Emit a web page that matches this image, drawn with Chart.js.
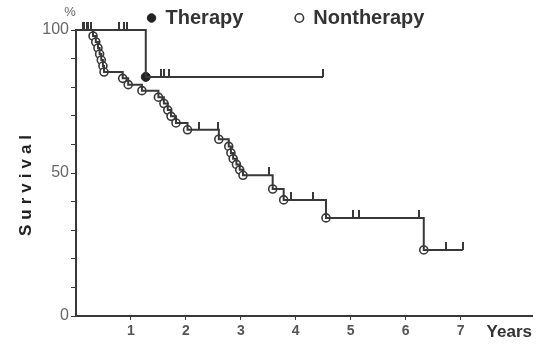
<!DOCTYPE html>
<html lang="en">
<head>
<meta charset="UTF-8">
<title>Survival - Therapy vs Nontherapy</title>
<script src="https://cdn.jsdelivr.net/npm/chart.js"></script>
<style>
    html, body { margin: 0; padding: 0; background: #fff; }
    #wrap { width: 549px; height: 345px; }
</style>
</head>
<body>
<div id="wrap"><canvas id="survChart" width="549" height="345"></canvas></div>
<script>
// Kaplan-Meier data (years, % surviving after each death)
const therapyEventTimes = [1.27];
const therapyEventSurv = [83.6];
const therapyFollowUp = 4.5;
const therapyCensored = [0.15, 0.22, 0.27, 0.78, 0.87, 0.92, 1.55, 1.6, 1.69, 4.5];

const nonEventTimes = [0.31, 0.36, 0.40, 0.43, 0.46, 0.49, 0.51, 0.85, 0.95, 1.20,
                       1.50, 1.60, 1.67, 1.73, 1.82, 2.03, 2.60, 2.78, 2.82, 2.86,
                       2.92, 2.98, 3.04, 3.58, 3.78, 4.55, 6.33];
const nonEventSurv = [97.9, 95.8, 93.7, 91.6, 89.5, 87.4, 85.3, 83.1, 80.9, 78.8,
                      76.5, 74.3, 72.0, 69.8, 67.5, 65.1, 61.8, 59.3, 57.0, 55.0,
                      53.0, 51.1, 49.2, 44.4, 40.6, 34.3, 23.1];
const nonFollowUp = 7.04;
const nonCensored = [0.13, 0.2, 2.24, 2.58, 3.51, 3.91, 4.31, 5.05, 5.15, 6.24, 6.73, 7.04];

const xTickValues = [1, 2, 3, 4, 5, 6, 7];
const yLabelValues = [0, 50, 100];

const ink = '#383838';
const fontFam = '"Liberation Sans", Arial, sans-serif';

// survival at time t from the step data
function survAt(t, times, surv) {
    let s = 100;
    for (let i = 0; i < times.length; i++) {
        if (times[i] <= t) s = surv[i];
    }
    return s;
}

function stepLine(times, surv, end) {
    const pts = [{x: 0, y: 100}];
    times.forEach((t, i) => pts.push({x: t, y: surv[i]}));
    pts.push({x: end, y: surv[surv.length - 1]});
    return pts;
}

// small vertical tick standing on the curve
function censorMark() {
    const c = document.createElement('canvas');
    c.width = 2;
    c.height = 16;
    const g = c.getContext('2d');
    g.fillStyle = ink;
    g.fillRect(0, 0, 2, 8);
    return c;
}
const tickImg = censorMark();

const extraText = {
    id: 'extraText',
    afterDraw(chart) {
        const {ctx, chartArea} = chart;
        ctx.save();
        ctx.fillStyle = '#222';
        ctx.font = 'bold 17px ' + fontFam;
        ctx.letterSpacing = '5px';
        ctx.translate(26, (chartArea.top + chartArea.bottom) / 2 + 10);
        ctx.rotate(-Math.PI / 2);
        ctx.textAlign = 'center';
        ctx.textBaseline = 'middle';
        ctx.fillText('Survival', 0, 0);
        ctx.restore();

        ctx.save();
        ctx.fillStyle = '#666';
        ctx.font = '13px ' + fontFam;
        ctx.textAlign = 'center';
        ctx.textBaseline = 'middle';
        ctx.fillText('%', 70, 12);
        ctx.restore();
    }
};

new Chart(document.getElementById('survChart'), {
    type: 'scatter',
    data: {
        datasets: [
            {
                label: 'therapy-line',
                data: stepLine(therapyEventTimes, therapyEventSurv, therapyFollowUp),
                showLine: true, stepped: true,
                borderColor: ink, borderWidth: 2, pointRadius: 0, clip: false
            },
            {
                label: 'nontherapy-line',
                data: stepLine(nonEventTimes, nonEventSurv, nonFollowUp),
                showLine: true, stepped: true,
                borderColor: ink, borderWidth: 2, pointRadius: 0, clip: false
            },
            {
                label: 'therapy-censor',
                data: therapyCensored.map(t => ({x: t, y: survAt(t, therapyEventTimes, therapyEventSurv)})),
                pointStyle: tickImg, clip: false
            },
            {
                label: 'nontherapy-censor',
                data: nonCensored.map(t => ({x: t, y: survAt(t, nonEventTimes, nonEventSurv)})),
                pointStyle: tickImg, clip: false
            },
            {
                label: 'Nontherapy', legend: true,
                data: nonEventTimes.map((t, i) => ({x: t, y: nonEventSurv[i]})),
                pointStyle: 'circle', pointRadius: 4,
                backgroundColor: '#fff', borderColor: ink, borderWidth: 1.6, clip: false
            },
            {
                label: 'Therapy', legend: true,
                data: therapyEventTimes.map((t, i) => ({x: t, y: therapyEventSurv[i]})),
                pointStyle: 'circle', pointRadius: 4.5,
                backgroundColor: '#222', borderColor: '#222', borderWidth: 1, clip: false
            }
        ]
    },
    options: {
        responsive: false,
        animation: false,
        devicePixelRatio: 1,
        layout: { padding: { top: -44, left: 40, right: 17, bottom: 0 } },
        plugins: {
            tooltip: { enabled: false },
            legend: {
                position: 'top',
                maxHeight: 74,
                reverse: true,
                labels: {
                    usePointStyle: true,
                    boxWidth: 8,
                    boxHeight: 6,
                    padding: 52,
                    color: '#333',
                    font: { family: fontFam, size: 20, weight: 'bold' },
                    filter: (item, data) => data.datasets[item.datasetIndex].legend === true
                }
            }
        },
        scales: {
            x: {
                type: 'linear',
                min: 0, max: 8.3,
                border: { color: ink, width: 2 },
                grid: { drawOnChartArea: false, tickLength: 4, color: ink },
                afterBuildTicks: s => { s.ticks = xTickValues.map(v => ({value: v})); },
                afterFit: s => { s.height = 29; },
                ticks: {
                    color: '#555', padding: 3,
                    font: { family: fontFam, size: 14, weight: 'bold' }
                },
                title: {
                    display: true, text: 'Years', align: 'end', color: '#333',
                    font: { family: fontFam, size: 17, weight: 'bold' },
                    padding: { top: 0, bottom: 2 }
                }
            },
            y: {
                min: 0, max: 100,
                border: { color: ink, width: 2 },
                grid: { drawOnChartArea: false, tickLength: 5, color: ink },
                afterFit: s => { s.width = 36; },
                ticks: {
                    stepSize: 10, color: '#666', padding: 2, autoSkip: false,
                    font: { family: fontFam, size: 16 },
                    callback: v => (yLabelValues.includes(v) ? v : '')
                }
            }
        }
    },
    plugins: [extraText]
});
</script>
</body>
</html>
